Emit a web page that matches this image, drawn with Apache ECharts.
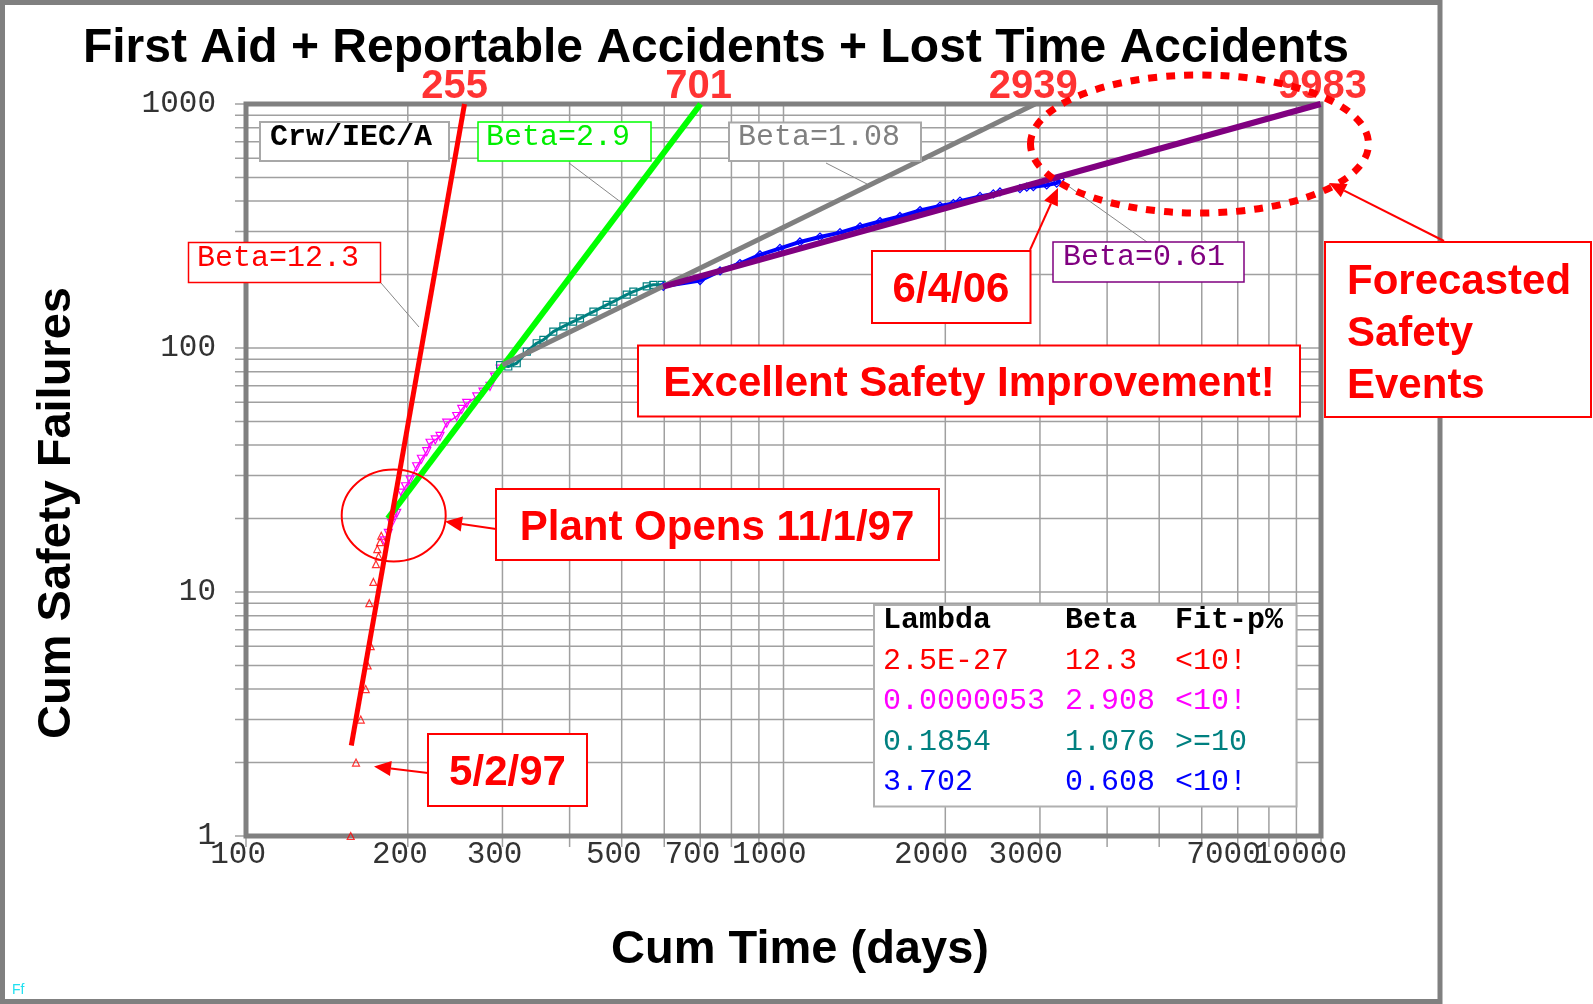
<!DOCTYPE html>
<html><head><meta charset="utf-8">
<script src="https://cdn.jsdelivr.net/npm/echarts@6/dist/echarts.min.js"></script>
<style>html,body{margin:0;padding:0;background:#fff}#c{width:1593px;height:1004px}</style>
</head><body><div id="c"></div>
<script>
// ---------- data ----------
const xGridValues = [100,200,300,400,500,600,700,800,900,1000,2000,3000,4000,5000,6000,7000,8000,9000,10000];
const yGridValues = [1,2,3,4,5,6,7,8,9,10,20,30,40,50,60,70,80,90,100,200,300,400,500,600,700,800,900,1000];
const xTickLabels = [100,200,300,500,700,1000,2000,3000,7000,10000];
const yTickLabels = [1,10,100,1000];

// red: before plant opens (cum time, cum failures)
const redT = [156.6,160.2,163.5,167.0,168.4,170.6,169.6,172.6,174.5,176.5,175.5,177.6,178.5];
const redN = [1,2,3,4,5,6,9,11,13,14,15,16,17];
// magenta: start-up period
const magT = [181,184,186.6,190.7,194.9,198,201.9,207.7,212,216.9,220,225,229.6,236.3,246.6,252,257.4,268.7,276,284.4,290,297];
const magN = [16.2,17.4,19.1,21,25.4,27,28.8,32.6,35,37.6,40.7,42,43.4,49.2,52.4,56,59.3,63.1,66,69.6,76,82];
// teal
const tealT = [297,307.6,318.9,333,347.4,357.5,373,389.5,406,418.2,443,468.8,482.5,510.9,525.6,556.6,572.6,593.4];
const tealN = [85,84,86.6,96.6,104.6,108,116.7,122.7,128.3,132.3,141,150.3,155,165.5,170.3,179,181.5,181.5];
// blue
const blueT = [597.6,699.5,762,829.8,904,985,1073,1169,1274,1388,1512,1647,1795,1955,2070,2130,2321,2457,2528,2754,2835,2916,3088,3223,3270];
const blueN = [179,189,207,222,241,256,272,285,297,314,330,346,366,382,391,400,418,428,436,450,456,458,466,474,490];

// fitted Crow/AMSAA lines (start, end)
const redFitT = [157,255],    redFitN = [2.35,1000];
const greenFitT = [183.6,701], greenFitN = [20,1000];
const greyFitT = [300,2939],  greyFitN = [85.2,1000];
const purpleFitT = [597,9983], purpleFitN = [178.6,1000];
const fitEndT = [255,701,2939,9983];
const fitEndN = [1000,1000,1000,1000];

// results table
const tableHeaders = ['Lambda','Beta','Fit-p%'];
const fitLambda = ['2.5E-27','0.0000053','0.1854','3.702'];
const fitBeta = ['12.3','2.908','1.076','0.608'];
const fitP = ['<10!','<10!','>=10','<10!'];

// ---------- styles ----------
const fitColors = ['#ff0000','#ff00ff','#008080','#0000ff'];
const endLabelDx = [-10,-2,-2,2];
const SANS = '"Liberation Sans", Arial, sans-serif';
const MONO = '"Liberation Mono", "Courier New", monospace';

const zip = (a,b) => a.map((v,i)=>[v,b[i]]);
const chart = echarts.init(document.getElementById('c'), null, {renderer:'canvas'});

function T(x,y,text,font,fill,align,va,extra){
  return Object.assign({type:'text', x, y, z:21, silent:true,
    style:{text, font, fill, align:align||'center', verticalAlign:va||'middle',
           textAlign:align||'center', textVerticalAlign:va||'middle'}}, extra||{});
}
function R(x,y,w,h,stroke,lw,z){
  return {type:'rect', z:z||20, silent:true, shape:{x,y,width:w,height:h}, style:{fill:'#fff', stroke, lineWidth:lw}};
}
function L(x1,y1,x2,y2,stroke,lw,z){
  return {type:'line', z:z||19, silent:true, shape:{x1,y1,x2,y2}, style:{stroke, lineWidth:lw}};
}
function ARROW(x1,y1,x2,y2){
  const a = Math.atan2(y2-y1,x2-x1), Lh=17, W=7.5;
  const bx = x2-Lh*Math.cos(a), by = y2-Lh*Math.sin(a);
  const px = -Math.sin(a)*W, py = Math.cos(a)*W;
  return [L(x1,y1,bx,by,'#ff0000',2,22),
    {type:'polygon', z:22, silent:true, shape:{points:[[x2,y2],[bx+px,by+py],[bx-px,by-py]]}, style:{fill:'#ff0000'}}];
}

const graphics = [];
// outer frame
graphics.push({type:'rect', z:0, silent:true, shape:{x:2.5,y:2.5,width:1437.5,height:999}, style:{fill:'none', stroke:'#808080', lineWidth:5}});
// plot frame
graphics.push({type:'rect', z:2, silent:true, shape:{x:246,y:104,width:1075,height:732}, style:{fill:'none', stroke:'#808080', lineWidth:5}});
// titles
graphics.push(T(716,49,'First Aid + Reportable Accidents + Lost Time Accidents','bold 48px '+SANS,'#000'));
graphics.push(T(800,950,'Cum Time (days)','bold 47px '+SANS,'#000'));
graphics.push(T(57,513,'Cum Safety Failures','bold 47px '+SANS,'#000','center','middle',{rotation:Math.PI/2}));
graphics.push(T(12,990,'Ff','14px '+SANS,'#20e0f0','left','middle'));

// callout leaders
graphics.push(L(381,283,419,327,'#888',1));
graphics.push(L(569,163,622,203,'#888',1));
graphics.push(L(826,163,867,184,'#888',1));
graphics.push(L(1147,242,1064,183,'#888',1));
// callout boxes
graphics.push(R(260,122,189,39,'#a8a8a8',2));
graphics.push(T(270,137.5,'Crw/IEC/A','bold 30px '+MONO,'#000','left'));
graphics.push(R(188.5,242.5,192,40,'#ff0000',1.5));
graphics.push(T(197,258,'Beta=12.3','30px '+MONO,'#ff0000','left'));
graphics.push(R(478,122,173,39,'#00ff00',1.5));
graphics.push(T(486,137.5,'Beta=2.9','30px '+MONO,'#00ee00','left'));
graphics.push(R(729,122.5,192,38.5,'#a8a8a8',2));
graphics.push(T(738,137.5,'Beta=1.08','30px '+MONO,'#808080','left'));
graphics.push(R(1053,242,191,40,'#800080',1.5));
graphics.push(T(1063,257.5,'Beta=0.61','30px '+MONO,'#800080','left'));

// results table
graphics.push(R(874,605,422.5,201.5,'#b0b0b0',2));
const colX = [883,1065,1175];
graphics.push(T(colX[0],620.5,tableHeaders[0],'bold 30px '+MONO,'#000','left'));
graphics.push(T(colX[1],620.5,tableHeaders[1],'bold 30px '+MONO,'#000','left'));
graphics.push(T(colX[2],620.5,tableHeaders[2],'bold 30px '+MONO,'#000','left'));
fitLambda.forEach((v,i)=>{
  const y = 661 + i*40.3;
  graphics.push(T(colX[0],y,v,'30px '+MONO,fitColors[i],'left'));
  graphics.push(T(colX[1],y,fitBeta[i],'30px '+MONO,fitColors[i],'left'));
  graphics.push(T(colX[2],y,fitP[i],'30px '+MONO,fitColors[i],'left'));
});

// red annotation boxes
graphics.push(R(638,345.5,662,71,'#ff0000',2));
graphics.push(T(969,384.5,'Excellent Safety Improvement!','bold 42px '+SANS,'#ff0000'));
graphics.push(R(496,489,443,71,'#ff0000',2));
graphics.push(T(717,528,'Plant Opens 11/1/97','bold 42px '+SANS,'#ff0000'));
graphics.push(R(428,734,159,72,'#ff0000',2));
graphics.push(T(507.5,773.5,'5/2/97','bold 42px '+SANS,'#ff0000'));
graphics.push(R(872,251,158.5,72,'#ff0000',2));
graphics.push(T(951,290.5,'6/4/06','bold 42px '+SANS,'#ff0000'));
graphics.push(R(1325,242,266,175,'#ff0000',2));
graphics.push(T(1347,282,'Forecasted','bold 42px '+SANS,'#ff0000','left'));
graphics.push(T(1347,334,'Safety','bold 42px '+SANS,'#ff0000','left'));
graphics.push(T(1347,386,'Events','bold 42px '+SANS,'#ff0000','left'));
// arrows
graphics.push(...ARROW(428,773,374,766.5));
graphics.push(...ARROW(496,529,445,521.5));
graphics.push(...ARROW(1030,250,1058,188));
graphics.push(...ARROW(1444,241,1329,183));
// ellipses
graphics.push({type:'ellipse', z:22, silent:true, shape:{cx:393.7,cy:515.5,rx:52,ry:46}, style:{fill:'none', stroke:'#ff0000', lineWidth:2}});
graphics.push({type:'ellipse', z:22, silent:true, shape:{cx:1199.5,cy:144,rx:169,ry:69}, style:{fill:'none', stroke:'#ff0000', lineWidth:7, lineDash:[9,9]}});

const hollow = c => ({color:'rgba(0,0,0,0)', borderColor:c, borderWidth:1.2});

const option = {
  animation:false,
  backgroundColor:'#ffffff',
  grid:{left:246, top:104, width:1075, height:732, show:false},
  xAxis:{type:'log', logBase:10, min:100, max:10000, axisLine:{show:false}, axisTick:{show:false}, axisLabel:{show:false}, splitLine:{show:false}},
  yAxis:{type:'log', logBase:10, min:1, max:1000, axisLine:{show:false}, axisTick:{show:false}, axisLabel:{show:false}, splitLine:{show:false}},
  graphic:{elements:graphics},
  series:[
    {type:'custom', name:'xGrid', z:1, silent:true, clip:false,
     data:xGridValues.map(v=>[v,1]), encode:{x:0,y:1},
     renderItem:(p,api)=>{const v=api.value(0); const a=api.coord([v,1000]); const b=api.coord([v,1]);
       return {type:'line', shape:{x1:a[0],y1:a[1],x2:b[0],y2:b[1]+11}, style:{stroke:'#a0a0a0', lineWidth:1.5}};}},
    {type:'custom', name:'yGrid', z:1, silent:true, clip:false,
     data:yGridValues.map(v=>[100,v]), encode:{x:0,y:1},
     renderItem:(p,api)=>{const v=api.value(1); const a=api.coord([100,v]); const b=api.coord([10000,v]);
       return {type:'line', shape:{x1:a[0]-11,y1:a[1],x2:b[0],y2:b[1]}, style:{stroke:'#a0a0a0', lineWidth:1.5}};}},
    {type:'custom', name:'xLabels', z:1, silent:true, clip:false,
     data:xTickLabels.map(v=>[v,1]), encode:{x:0,y:1},
     renderItem:(p,api)=>{const v=api.value(0); const c=api.coord([v,1]); const s=String(v);
       return {type:'text', x:c[0]+11+3*s.length, y:c[1]+19, style:{text:s, fill:'#333', font:'31px '+MONO, align:'right', verticalAlign:'middle', textAlign:'right', textVerticalAlign:'middle'}};}},
    {type:'custom', name:'yLabels', z:1, silent:true, clip:false,
     data:yTickLabels.map(v=>[100,v]), encode:{x:0,y:1},
     renderItem:(p,api)=>{const v=api.value(1); const c=api.coord([100,v]); const s=String(v);
       return {type:'text', x:c[0]-30, y:c[1], style:{text:s, fill:'#333', font:'31px '+MONO, align:'right', verticalAlign:'middle', textAlign:'right', textVerticalAlign:'middle'}};}},

    {type:'scatter', name:'pre-opening', z:3, clip:false, silent:true, data:zip(redT,redN),
     symbol:'triangle', symbolSize:7, itemStyle:hollow('#ff0000')},
    {type:'line', name:'start-up', z:3, clip:false, silent:true, data:zip(magT,magN),
     symbol:'triangle', symbolRotate:180, symbolSize:8, showSymbol:true, itemStyle:hollow('#ff00ff'),
     lineStyle:{color:'#ff00ff', width:1.5}},
    {type:'line', name:'teal', z:3, clip:false, silent:true, data:zip(tealT,tealN),
     symbol:'rect', symbolSize:7, showSymbol:true, itemStyle:hollow('#008080'),
     lineStyle:{color:'#008080', width:3}},
    {type:'line', name:'blue', z:3, clip:false, silent:true, data:zip(blueT,blueN),
     symbol:'diamond', symbolSize:8, showSymbol:true, itemStyle:hollow('#0000ff'),
     lineStyle:{color:'#0000ff', width:4}},

    {type:'line', name:'Beta=2.9', z:4, clip:false, silent:true, symbol:'none', data:zip(greenFitT,greenFitN), lineStyle:{color:'#00ff00', width:6}},
    {type:'line', name:'Beta=1.08', z:4, clip:false, silent:true, symbol:'none', data:zip(greyFitT,greyFitN), lineStyle:{color:'#808080', width:5}},
    {type:'line', name:'Beta=0.61', z:4, clip:false, silent:true, symbol:'none', data:zip(purpleFitT,purpleFitN), lineStyle:{color:'#800080', width:6}},
    {type:'line', name:'Beta=12.3', z:4, clip:false, silent:true, symbol:'none', data:zip(redFitT,redFitN), lineStyle:{color:'#ff0000', width:5}},

    {type:'scatter', name:'endLabels', z:6, clip:false, silent:true, symbolSize:1,
     itemStyle:{color:'rgba(0,0,0,0)'},
     data:fitEndT.map((t,i)=>({value:[t,fitEndN[i]], label:{offset:[endLabelDx[i],5]}})),
     label:{show:true, position:'top', distance:2, formatter:p=>String(p.value[0]),
            color:'#ff0000', fontSize:40, fontWeight:'bold', fontFamily:SANS}}
  ]
};
chart.setOption(option);
</script></body></html>
